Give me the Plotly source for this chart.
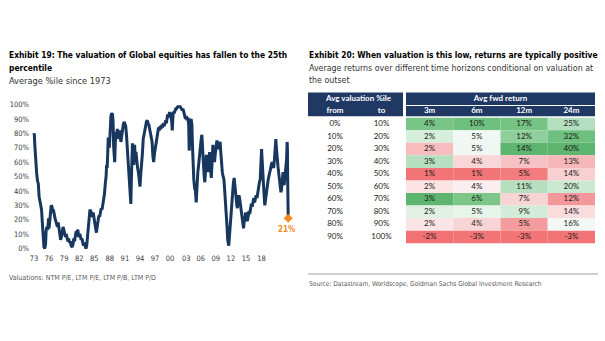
import plotly.graph_objects as go

W, H = 605, 341

# ---------------- Exhibit 19 data: average valuation percentile since 1973 ----------------
years = [
    1973.00, 1973.05, 1973.15, 1973.30, 1973.50, 1973.65, 1973.80, 1973.95, 1974.10, 1974.25,
    1974.40, 1974.55, 1974.70, 1974.85, 1975.00, 1975.15, 1975.25, 1975.40, 1975.55, 1975.70,
    1975.80, 1975.95, 1976.10, 1976.20, 1976.35, 1976.50, 1976.60, 1976.75, 1976.90, 1977.05,
    1977.20, 1977.35, 1977.50, 1977.65, 1977.80, 1977.95, 1978.10, 1978.25, 1978.40, 1978.55,
    1978.70, 1978.85, 1979.00, 1979.15, 1979.30, 1979.45, 1979.60, 1979.75, 1979.90, 1980.10,
    1980.25, 1980.40, 1980.55, 1980.70, 1980.85, 1981.00, 1981.15, 1981.30, 1981.45, 1981.60,
    1981.75, 1981.90, 1982.05, 1982.20, 1982.35, 1982.50, 1982.65, 1982.80, 1982.95, 1983.10,
    1983.25, 1983.40, 1983.55, 1983.70, 1983.85, 1984.00, 1984.15, 1984.30, 1984.45, 1984.60,
    1984.75, 1984.90, 1985.05, 1985.20, 1985.35, 1985.50, 1985.65, 1985.80, 1985.95, 1986.10,
    1986.25, 1986.40, 1986.50, 1986.60, 1986.70, 1986.80, 1986.90, 1987.00, 1987.10, 1987.20,
    1987.30, 1987.45, 1987.60, 1987.70, 1987.80, 1987.90, 1988.00, 1988.10, 1988.20, 1988.35,
    1988.50, 1988.60, 1988.75, 1988.90, 1989.00, 1989.15, 1989.30, 1989.45, 1989.60, 1989.75,
    1989.90, 1990.05, 1990.20, 1990.30, 1990.45, 1990.60, 1990.75, 1990.90, 1991.00, 1991.10,
    1991.20, 1991.30, 1991.45, 1991.55, 1991.70, 1991.80, 1991.95, 1992.10, 1992.25, 1992.40,
    1992.55, 1992.70, 1992.85, 1993.00, 1993.15, 1993.30, 1993.45, 1993.60, 1993.75, 1993.90,
    1994.05, 1994.20, 1994.35, 1994.50, 1994.65, 1994.80, 1994.95, 1995.10, 1995.25, 1995.40,
    1995.55, 1995.70, 1995.85, 1996.00, 1996.15, 1996.30, 1996.45, 1996.60, 1996.75, 1996.90,
    1997.05, 1997.20, 1997.35, 1997.50, 1997.60, 1997.70, 1997.85, 1998.00, 1998.15, 1998.30,
    1998.45, 1998.60, 1998.70, 1998.80, 1998.90, 1999.05, 1999.20, 1999.35, 1999.50, 1999.65,
    1999.80, 1999.95, 2000.10, 2000.25, 2000.40, 2000.55, 2000.70, 2000.85, 2001.00, 2001.15,
    2001.30, 2001.45, 2001.60, 2001.75, 2001.85, 2001.95, 2002.05, 2002.20, 2002.35, 2002.45,
    2002.55, 2002.70, 2002.85, 2003.00, 2003.15, 2003.30, 2003.45, 2003.60, 2003.75, 2003.90,
    2004.05, 2004.20, 2004.30, 2004.45, 2004.60, 2004.75, 2004.90, 2005.05, 2005.20, 2005.35,
    2005.50, 2005.65, 2005.80, 2005.95, 2006.10, 2006.25, 2006.40, 2006.55, 2006.70, 2006.85,
    2007.00, 2007.15, 2007.30, 2007.45, 2007.60, 2007.70, 2007.85, 2008.00, 2008.15, 2008.30,
    2008.45, 2008.60, 2008.75, 2008.90, 2009.00, 2009.10, 2009.20, 2009.30, 2009.40, 2009.50,
    2009.60, 2009.75, 2009.90, 2010.05, 2010.20, 2010.30, 2010.45, 2010.55, 2010.70, 2010.80,
    2010.95, 2011.10, 2011.25, 2011.40, 2011.55, 2011.70, 2011.80, 2011.95, 2012.05, 2012.20,
    2012.35, 2012.50, 2012.65, 2012.80, 2012.95, 2013.10, 2013.25, 2013.40, 2013.55, 2013.70,
    2013.85, 2014.00, 2014.15, 2014.30, 2014.45, 2014.60, 2014.75, 2014.90, 2015.05, 2015.15,
    2015.30, 2015.40, 2015.50, 2015.60, 2015.75, 2015.90, 2016.05, 2016.20, 2016.35, 2016.50,
    2016.65, 2016.80, 2016.95, 2017.10, 2017.25, 2017.40, 2017.55, 2017.70, 2017.85, 2017.95,
    2018.05, 2018.20, 2018.35, 2018.50, 2018.65, 2018.80, 2018.90, 2019.00, 2019.15, 2019.30,
    2019.40, 2019.50, 2019.60, 2019.70, 2019.85, 2019.95, 2020.05, 2020.10, 2020.15, 2020.20,
    2020.25,
]
pctile = [
    79, 80, 72, 60, 52, 47, 45, 36, 32, 31,
    27, 18, 8, 1, 0, 3, 12, 15, 13, 21,
    14, 22, 26, 30, 29, 25, 27, 23, 21, 19,
    17, 15, 18, 14, 10, 6, 8, 12, 15, 13,
    11, 8, 10, 7, 5, 7, 4, 5, 2, 1,
    3, 7, 5, 9, 12, 11, 13, 8, 10, 9,
    6, 7, 3, 2, 4, 1, 0, 2, 8, 12,
    20, 27, 26, 24, 22, 25, 20, 18, 14, 11,
    16, 21, 23, 22, 26, 28, 27, 31, 33, 38,
    45, 50, 58, 56, 66, 77, 73, 70, 75, 84,
    92, 94, 93, 88, 71, 64, 60, 72, 81, 78,
    83, 80, 76, 82, 79, 74, 78, 84, 86, 88,
    87, 85, 78, 72, 63, 52, 42, 33, 31, 48,
    66, 73, 68, 58, 72, 64, 67, 60, 56, 53,
    48, 43, 52, 58, 66, 76, 80, 84, 85, 88,
    89, 87, 86, 83, 80, 79, 74, 64, 60, 66,
    70, 74, 78, 81, 84, 82, 85, 83, 86, 84,
    87, 85, 88, 89, 87, 90, 93, 91, 94, 94,
    92, 88, 82, 90, 95, 94, 96, 97, 97, 98,
    99, 98, 99, 98, 97, 96, 97, 95, 93, 90,
    92, 89, 91, 86, 68, 80, 88, 90, 86, 72,
    55, 48, 42, 40, 32, 46, 53, 58, 66, 69,
    75, 79, 70, 60, 52, 46, 55, 65, 58, 53,
    61, 67, 57, 49, 60, 72, 64, 60, 66, 70,
    75, 72, 69, 72, 74, 68, 58, 53, 50, 48,
    40, 33, 22, 14, 6, 3, 2, 7, 13, 19,
    25, 33, 39, 45, 49, 46, 43, 36, 30, 28,
    34, 37, 34, 30, 27, 21, 17, 14, 18, 22,
    25, 21, 19, 22, 26, 24, 28, 31, 29, 33,
    35, 32, 36, 37, 35, 40, 42, 46, 48, 56,
    69, 62, 53, 47, 38, 30, 35, 41, 43, 47,
    50, 52, 55, 58, 60, 57, 56, 62, 68, 76,
    70, 60, 57, 52, 47, 42, 39, 41, 50, 53,
    47, 44, 48, 52, 54, 62, 74, 70, 48, 30,
    21,
]
y_ticks = [0, 10, 20, 30, 40, 50, 60, 70, 80, 90, 100]
x_tick_text = ["73", "76", "79", "82", "85", "88", "91", "94", "97", "00",
               "03", "06", "09", "12", "15", "18"]
# label anchor positions as placed on the original (category-style) axis
x_tick_pos = [1973.0, 1975.8, 1978.6, 1981.4, 1984.2, 1987.1, 1989.9, 1992.7, 1995.5, 1998.3,
              2001.3, 2004.0, 2006.8, 2009.6, 2012.4, 2015.3]

# ---------------- Exhibit 20 data: average forward returns by valuation bucket ----------------
val_from = ["0%", "10%", "20%", "30%", "40%", "50%", "60%", "70%", "80%", "90%"]
val_to = ["10%", "20%", "30%", "40%", "50%", "60%", "70%", "80%", "90%", "100%"]
horizons = ["3m", "6m", "12m", "24m"]
ret_3m = [4, 2, 2, 3, 1, 2, 3, 2, 2, -2]
ret_6m = [10, 5, 5, 4, 1, 4, 6, 5, 4, -3]
ret_12m = [17, 12, 14, 7, 5, 11, 7, 9, 5, -3]
ret_24m = [25, 32, 40, 13, 14, 20, 12, 14, 16, -3]
returns = [ret_3m, ret_6m, ret_12m, ret_24m]

# conditional-format fill colours (style), by column then row
cell_colors = [
    ["#79c487", "#d6eedc", "#f7bcbd", "#b6dfc0", "#f27476", "#fbe2e3", "#5db56f", "#e0f1e4", "#fbe4e5", "#f27173"],
    ["#6fc07f", "#f1f7f3", "#f0f6f2", "#f9d6d7", "#f27577", "#fbeef0", "#7cc689", "#e6f4ea", "#f9d4d5", "#f27476"],
    ["#75c485", "#8fcf9c", "#5db56f", "#f7c2c3", "#f27c7e", "#b6dfc0", "#f9d4d5", "#d3ebd9", "#f49b9d", "#f27476"],
    ["#b4dfbe", "#6dc07e", "#5db56f", "#f6b7b8", "#f8d0d1", "#cbe8d2", "#f3979a", "#fadcdd", "#f3f8f5", "#f27476"],
]

NAVY_LINE = "#17375e"
ORANGE = "#f08a24"
HEAD = "#1f3864"
NARROW = "Liberation Sans Narrow, Arial Narrow, DejaVu Sans Condensed, sans-serif"
TABLEF = "Lato, Open Sans, sans-serif"


def px(x):
    return x / W


def py(y):
    return 1 - y / H


fig = go.Figure()

# ---- left line chart ----
fig.add_trace(go.Scatter(
    x=years, y=pctile, mode="lines",
    line=dict(color=NAVY_LINE, width=3),
    xaxis="x", yaxis="y", hoverinfo="skip", showlegend=False,
))
fig.add_trace(go.Scatter(
    x=[years[-1]], y=[pctile[-1]], mode="markers",
    marker=dict(symbol="diamond", size=7, color=ORANGE),
    xaxis="x", yaxis="y", hoverinfo="skip", showlegend=False, cliponaxis=False,
))

# ---- right table: cells and text on a hidden axis pair ----
TX0, TX1 = 308, 595          # table horizontal extent (px)
TY0, TY1 = 92, 244           # table vertical extent (px)
LEFT_W = 95                  # width of valuation block
COL0 = 98                    # start of return block
COLW = 47.25
HR1 = (0.6, 13.0)            # header row 1 (y units)
HR2 = (14.0, 24.2)           # header row 2
ROW0 = 25.7
ROWH = 12.55
FROM_C, TO_C = 27, 73.5

shapes = []
shapes.append(dict(type="rect", xref="x2", yref="y2", x0=0, x1=LEFT_W, y0=HR1[0], y1=HR2[1],
                   fillcolor=HEAD, line=dict(width=0), layer="below"))
shapes.append(dict(type="rect", xref="x2", yref="y2", x0=COL0, x1=COL0 + 4 * COLW, y0=HR1[0], y1=HR1[1],
                   fillcolor=HEAD, line=dict(width=0), layer="below"))
shapes.append(dict(type="rect", xref="x2", yref="y2", x0=COL0, x1=COL0 + 4 * COLW, y0=HR2[0], y1=HR2[1],
                   fillcolor=HEAD, line=dict(width=0), layer="below"))
for ci, col in enumerate(returns):
    for ri, _ in enumerate(col):
        shapes.append(dict(type="rect", xref="x2", yref="y2",
                           x0=COL0 + ci * COLW, x1=COL0 + (ci + 1) * COLW,
                           y0=ROW0 + ri * ROWH, y1=ROW0 + (ri + 1) * ROWH,
                           fillcolor=cell_colors[ci][ri], line=dict(width=0), layer="below"))
shapes.append(dict(type="line", xref="paper", yref="paper", x0=px(308), x1=px(598),
                   y0=py(274), y1=py(274), line=dict(color="#bfbfbf", width=1.5)))

row_centers = [ROW0 + (i + 0.5) * ROWH for i in range(len(val_from))]
col_centers = [COL0 + (i + 0.5) * COLW for i in range(len(horizons))]

fig.add_trace(go.Scatter(
    x=[LEFT_W / 2 + 3, COL0 + 2 * COLW, FROM_C, TO_C] + col_centers,
    y=[(HR1[0] + HR1[1]) / 2, (HR1[0] + HR1[1]) / 2] + [(HR2[0] + HR2[1]) / 2] * (2 + len(horizons)),
    text=["Avg valuation %ile", "Avg fwd return", "from", "to"] + horizons,
    mode="text", textfont=dict(family=TABLEF, size=8, color="white", weight="bold"),
    xaxis="x2", yaxis="y2", hoverinfo="skip", showlegend=False,
))
fig.add_trace(go.Scatter(
    x=[FROM_C] * len(val_from) + [TO_C] * len(val_to),
    y=row_centers + row_centers,
    text=val_from + val_to,
    mode="text", textfont=dict(family=TABLEF, size=8, color="#1a1a1a"),
    xaxis="x2", yaxis="y2", hoverinfo="skip", showlegend=False,
))
rx, ry, rt = [], [], []
for ci, col in enumerate(returns):
    for ri, v in enumerate(col):
        rx.append(col_centers[ci])
        ry.append(row_centers[ri])
        rt.append(f"{v}%")
fig.add_trace(go.Scatter(
    x=rx, y=ry, text=rt, mode="text",
    textfont=dict(family=TABLEF, size=8, color="#1a1a1a"),
    xaxis="x2", yaxis="y2", hoverinfo="skip", showlegend=False,
))

# ---- annotations ----
ann = []


def text(x, y, s, size, color, bold=False, family=NARROW, xanchor="left"):
    ann.append(dict(xref="paper", yref="paper", x=px(x), y=py(y), text=(f"<b>{s}</b>" if bold else s),
                    showarrow=False, xanchor=xanchor, yanchor="middle",
                    font=dict(family=family, size=size, color=color)))


text(7, 55, "Exhibit 19: The valuation of Global equities has fallen to the 25th", 8.4, "#000000", bold=True)
text(7, 68, "percentile", 8.4, "#000000", bold=True)
text(7, 80, "Average %ile since 1973", 9.2, "#333333")
text(307, 55, "Exhibit 20: When valuation is this low, returns are typically positive", 8.4, "#000000", bold=True)
text(307, 68, "Average returns over different time horizons conditional on valuation at", 8.8, "#333333")
text(307, 80, "the outset", 8.8, "#333333")
text(7, 278, "Valuations: NTM P/E, LTM P/E, LTM P/B, LTM P/D", 7, "#595959")
text(307, 284, "Source: Datastream, Worldscope, Goldman Sachs Global Investment Research", 6.6, "#595959")

ann.append(dict(xref="x", yref="y", x=years[-1], y=pctile[-1], text=f"<b>{pctile[-1]}%</b>",
                showarrow=False, xanchor="center", yanchor="top", yshift=-5, xshift=-2,
                font=dict(family=NARROW, size=8, color=ORANGE)))

# ---- axes geometry ----
PX_PER_YEAR = 5.38
LX0, LX1 = 30, 292
x_range = [1973 + (LX0 - 34) / PX_PER_YEAR, 1973 + (LX1 - 34) / PX_PER_YEAR]
LY_TOP, LY_BOT = 100, 252
PX_PER_PCT = 1.44
y_range = [(248.5 - LY_BOT) / PX_PER_PCT, (248.5 - LY_TOP) / PX_PER_PCT]

fig.update_layout(
    width=W, height=H,
    margin=dict(l=0, r=0, t=0, b=0),
    paper_bgcolor="white", plot_bgcolor="white",
    showlegend=False,
    shapes=shapes,
    annotations=ann,
    xaxis=dict(domain=[px(LX0), px(LX1)], range=x_range, showgrid=False, zeroline=False,
               showline=False, tickmode="array", tickvals=x_tick_pos, ticktext=x_tick_text,
               ticks="", tickfont=dict(family=NARROW, size=7.5, color="#404040"), fixedrange=True),
    yaxis=dict(domain=[py(LY_BOT), py(LY_TOP)], range=y_range, showgrid=False, zeroline=False,
               showline=False, tickmode="array", tickvals=y_ticks,
               ticktext=[f"{v}%" for v in y_ticks], ticks="",
               tickfont=dict(family=NARROW, size=7.5, color="#404040"), fixedrange=True),
    xaxis2=dict(domain=[px(TX0), px(TX1)], range=[0, TX1 - TX0], visible=False, fixedrange=True,
                anchor="y2"),
    yaxis2=dict(domain=[py(TY1), py(TY0)], range=[TY1 - TY0, 0], visible=False, fixedrange=True,
                anchor="x2"),
)

fig.write_html("out.html")
